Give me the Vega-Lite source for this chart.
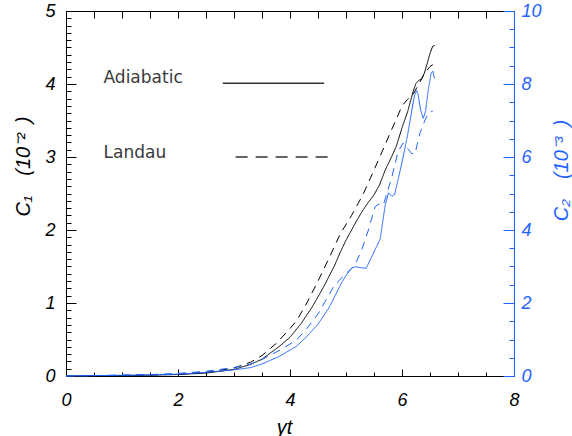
{
  "$schema": "https://vega.github.io/schema/vega-lite/v6.json",
  "width": 448,
  "height": 365,
  "autosize": {"type": "none"},
  "padding": {"left": 66, "top": 11, "right": 58, "bottom": 60},
  "background": "white",
  "config": {
    "view": {"stroke": null},
    "axis": {
      "grid": false,
      "domainColor": "black",
      "tickColor": "black",
      "labelColor": "black",
      "titleColor": "black",
      "labelFont": "Liberation Sans",
      "labelFontStyle": "italic",
      "labelFontSize": 18,
      "labelFontWeight": "normal",
      "titleFont": "Liberation Sans",
      "titleFontStyle": "italic",
      "titleFontWeight": "normal",
      "titleFontSize": 20,
      "domainWidth": 1,
      "tickWidth": 1
    }
  },
  "datasets": {
    "curves": [
      {"var": "C1", "model": "Adiabatic", "t": 0, "c": 0},
      {"var": "C1", "model": "Adiabatic", "t": 0.5, "c": 0.003},
      {"var": "C1", "model": "Adiabatic", "t": 1, "c": 0.006},
      {"var": "C1", "model": "Adiabatic", "t": 1.5, "c": 0.012},
      {"var": "C1", "model": "Adiabatic", "t": 2, "c": 0.02},
      {"var": "C1", "model": "Adiabatic", "t": 2.5, "c": 0.04},
      {"var": "C1", "model": "Adiabatic", "t": 3, "c": 0.09},
      {"var": "C1", "model": "Adiabatic", "t": 3.3, "c": 0.16},
      {"var": "C1", "model": "Adiabatic", "t": 3.5, "c": 0.23},
      {"var": "C1", "model": "Adiabatic", "t": 3.8, "c": 0.40},
      {"var": "C1", "model": "Adiabatic", "t": 4.0, "c": 0.53},
      {"var": "C1", "model": "Adiabatic", "t": 4.2, "c": 0.72},
      {"var": "C1", "model": "Adiabatic", "t": 4.4, "c": 0.95},
      {"var": "C1", "model": "Adiabatic", "t": 4.6, "c": 1.22},
      {"var": "C1", "model": "Adiabatic", "t": 4.8, "c": 1.52},
      {"var": "C1", "model": "Adiabatic", "t": 4.9, "c": 1.70},
      {"var": "C1", "model": "Adiabatic", "t": 5.0, "c": 1.86},
      {"var": "C1", "model": "Adiabatic", "t": 5.1, "c": 2.0},
      {"var": "C1", "model": "Adiabatic", "t": 5.2, "c": 2.14},
      {"var": "C1", "model": "Adiabatic", "t": 5.3, "c": 2.27},
      {"var": "C1", "model": "Adiabatic", "t": 5.4, "c": 2.38},
      {"var": "C1", "model": "Adiabatic", "t": 5.5, "c": 2.48},
      {"var": "C1", "model": "Adiabatic", "t": 5.6, "c": 2.62},
      {"var": "C1", "model": "Adiabatic", "t": 5.7, "c": 2.82},
      {"var": "C1", "model": "Adiabatic", "t": 5.8, "c": 2.98},
      {"var": "C1", "model": "Adiabatic", "t": 5.9, "c": 3.15},
      {"var": "C1", "model": "Adiabatic", "t": 6.0, "c": 3.40},
      {"var": "C1", "model": "Adiabatic", "t": 6.1, "c": 3.62},
      {"var": "C1", "model": "Adiabatic", "t": 6.2, "c": 3.90},
      {"var": "C1", "model": "Adiabatic", "t": 6.25, "c": 4.01},
      {"var": "C1", "model": "Adiabatic", "t": 6.3, "c": 4.05},
      {"var": "C1", "model": "Adiabatic", "t": 6.35, "c": 4.07},
      {"var": "C1", "model": "Adiabatic", "t": 6.4, "c": 4.15},
      {"var": "C1", "model": "Adiabatic", "t": 6.45, "c": 4.28},
      {"var": "C1", "model": "Adiabatic", "t": 6.5, "c": 4.42},
      {"var": "C1", "model": "Adiabatic", "t": 6.55, "c": 4.52},
      {"var": "C1", "model": "Adiabatic", "t": 6.59, "c": 4.53},
      {"var": "C1", "model": "Landau", "t": 0, "c": 0},
      {"var": "C1", "model": "Landau", "t": 0.5, "c": 0.003},
      {"var": "C1", "model": "Landau", "t": 1, "c": 0.007},
      {"var": "C1", "model": "Landau", "t": 1.5, "c": 0.014},
      {"var": "C1", "model": "Landau", "t": 2, "c": 0.025},
      {"var": "C1", "model": "Landau", "t": 2.5, "c": 0.05},
      {"var": "C1", "model": "Landau", "t": 3, "c": 0.11},
      {"var": "C1", "model": "Landau", "t": 3.3, "c": 0.19},
      {"var": "C1", "model": "Landau", "t": 3.5, "c": 0.28},
      {"var": "C1", "model": "Landau", "t": 3.76, "c": 0.45},
      {"var": "C1", "model": "Landau", "t": 4.0, "c": 0.65},
      {"var": "C1", "model": "Landau", "t": 4.12, "c": 0.76},
      {"var": "C1", "model": "Landau", "t": 4.3, "c": 1.0},
      {"var": "C1", "model": "Landau", "t": 4.5, "c": 1.30},
      {"var": "C1", "model": "Landau", "t": 4.7, "c": 1.62},
      {"var": "C1", "model": "Landau", "t": 4.9, "c": 1.95},
      {"var": "C1", "model": "Landau", "t": 5.1, "c": 2.2},
      {"var": "C1", "model": "Landau", "t": 5.3, "c": 2.48},
      {"var": "C1", "model": "Landau", "t": 5.5, "c": 2.82},
      {"var": "C1", "model": "Landau", "t": 5.7, "c": 3.17},
      {"var": "C1", "model": "Landau", "t": 5.8, "c": 3.35},
      {"var": "C1", "model": "Landau", "t": 5.9, "c": 3.52},
      {"var": "C1", "model": "Landau", "t": 6.0, "c": 3.70},
      {"var": "C1", "model": "Landau", "t": 6.1, "c": 3.79},
      {"var": "C1", "model": "Landau", "t": 6.2, "c": 3.86},
      {"var": "C1", "model": "Landau", "t": 6.3, "c": 4.0},
      {"var": "C1", "model": "Landau", "t": 6.4, "c": 4.14},
      {"var": "C1", "model": "Landau", "t": 6.5, "c": 4.24},
      {"var": "C1", "model": "Landau", "t": 6.58, "c": 4.28},
      {"var": "C2", "model": "Adiabatic", "t": 0, "c": 0},
      {"var": "C2", "model": "Adiabatic", "t": 0.5, "c": 0.01},
      {"var": "C2", "model": "Adiabatic", "t": 1, "c": 0.02},
      {"var": "C2", "model": "Adiabatic", "t": 1.5, "c": 0.03},
      {"var": "C2", "model": "Adiabatic", "t": 2, "c": 0.05},
      {"var": "C2", "model": "Adiabatic", "t": 2.5, "c": 0.1},
      {"var": "C2", "model": "Adiabatic", "t": 3, "c": 0.17},
      {"var": "C2", "model": "Adiabatic", "t": 3.3, "c": 0.23},
      {"var": "C2", "model": "Adiabatic", "t": 3.5, "c": 0.33},
      {"var": "C2", "model": "Adiabatic", "t": 3.8, "c": 0.53},
      {"var": "C2", "model": "Adiabatic", "t": 4.0, "c": 0.71},
      {"var": "C2", "model": "Adiabatic", "t": 4.12, "c": 0.82},
      {"var": "C2", "model": "Adiabatic", "t": 4.3, "c": 1.08},
      {"var": "C2", "model": "Adiabatic", "t": 4.5, "c": 1.42},
      {"var": "C2", "model": "Adiabatic", "t": 4.7, "c": 1.88},
      {"var": "C2", "model": "Adiabatic", "t": 4.92, "c": 2.55},
      {"var": "C2", "model": "Adiabatic", "t": 5.0, "c": 2.75},
      {"var": "C2", "model": "Adiabatic", "t": 5.1, "c": 2.95},
      {"var": "C2", "model": "Adiabatic", "t": 5.16, "c": 2.99},
      {"var": "C2", "model": "Adiabatic", "t": 5.36, "c": 2.95},
      {"var": "C2", "model": "Adiabatic", "t": 5.61, "c": 3.75},
      {"var": "C2", "model": "Adiabatic", "t": 5.70, "c": 4.68},
      {"var": "C2", "model": "Adiabatic", "t": 5.76, "c": 5.02},
      {"var": "C2", "model": "Adiabatic", "t": 5.82, "c": 4.92},
      {"var": "C2", "model": "Adiabatic", "t": 5.87, "c": 4.98},
      {"var": "C2", "model": "Adiabatic", "t": 6.0, "c": 5.85},
      {"var": "C2", "model": "Adiabatic", "t": 6.1, "c": 6.6},
      {"var": "C2", "model": "Adiabatic", "t": 6.2, "c": 7.5},
      {"var": "C2", "model": "Adiabatic", "t": 6.23, "c": 7.72},
      {"var": "C2", "model": "Adiabatic", "t": 6.26, "c": 7.82},
      {"var": "C2", "model": "Adiabatic", "t": 6.29, "c": 7.7},
      {"var": "C2", "model": "Adiabatic", "t": 6.33, "c": 7.3},
      {"var": "C2", "model": "Adiabatic", "t": 6.38, "c": 7.06},
      {"var": "C2", "model": "Adiabatic", "t": 6.42, "c": 7.25},
      {"var": "C2", "model": "Adiabatic", "t": 6.47, "c": 7.85},
      {"var": "C2", "model": "Adiabatic", "t": 6.52, "c": 8.3},
      {"var": "C2", "model": "Adiabatic", "t": 6.55, "c": 8.35},
      {"var": "C2", "model": "Adiabatic", "t": 6.58, "c": 8.15},
      {"var": "C2", "model": "Landau", "t": 0, "c": 0},
      {"var": "C2", "model": "Landau", "t": 0.5, "c": 0.01},
      {"var": "C2", "model": "Landau", "t": 1, "c": 0.03},
      {"var": "C2", "model": "Landau", "t": 1.5, "c": 0.04},
      {"var": "C2", "model": "Landau", "t": 2, "c": 0.07},
      {"var": "C2", "model": "Landau", "t": 2.5, "c": 0.13},
      {"var": "C2", "model": "Landau", "t": 3, "c": 0.23},
      {"var": "C2", "model": "Landau", "t": 3.3, "c": 0.33},
      {"var": "C2", "model": "Landau", "t": 3.5, "c": 0.45},
      {"var": "C2", "model": "Landau", "t": 3.88, "c": 0.76},
      {"var": "C2", "model": "Landau", "t": 4.12, "c": 0.99},
      {"var": "C2", "model": "Landau", "t": 4.3, "c": 1.3},
      {"var": "C2", "model": "Landau", "t": 4.5, "c": 1.7},
      {"var": "C2", "model": "Landau", "t": 4.8, "c": 2.5},
      {"var": "C2", "model": "Landau", "t": 5.01, "c": 2.82},
      {"var": "C2", "model": "Landau", "t": 5.16, "c": 3.04},
      {"var": "C2", "model": "Landau", "t": 5.28, "c": 3.45},
      {"var": "C2", "model": "Landau", "t": 5.40, "c": 4.0},
      {"var": "C2", "model": "Landau", "t": 5.52, "c": 4.64},
      {"var": "C2", "model": "Landau", "t": 5.61, "c": 4.73},
      {"var": "C2", "model": "Landau", "t": 5.67, "c": 4.7},
      {"var": "C2", "model": "Landau", "t": 5.82, "c": 5.46},
      {"var": "C2", "model": "Landau", "t": 5.93, "c": 6.15},
      {"var": "C2", "model": "Landau", "t": 6.02, "c": 6.38},
      {"var": "C2", "model": "Landau", "t": 6.08, "c": 6.27},
      {"var": "C2", "model": "Landau", "t": 6.17, "c": 6.1},
      {"var": "C2", "model": "Landau", "t": 6.23, "c": 6.08},
      {"var": "C2", "model": "Landau", "t": 6.32, "c": 6.65},
      {"var": "C2", "model": "Landau", "t": 6.41, "c": 7.01},
      {"var": "C2", "model": "Landau", "t": 6.47, "c": 7.2},
      {"var": "C2", "model": "Landau", "t": 6.55, "c": 7.26}
    ],
    "legendLines": [
      {"model": "Adiabatic", "t": 2.80, "c": 4.01},
      {"model": "Adiabatic", "t": 4.61, "c": 4.01},
      {"model": "Landau", "t": 3.03, "c": 3.0},
      {"model": "Landau", "t": 4.77, "c": 3.0}
    ],
    "legendText": [
      {"label": "Adiabatic", "t": 0.67, "c": 4.01},
      {"label": "Landau", "t": 0.67, "c": 2.99}
    ]
  },
  "layer": [
    {
      "data": {"name": "curves"},
      "transform": [{"filter": "datum.var == 'C1'"}],
      "mark": {"type": "line", "color": "black", "strokeWidth": 1},
      "encoding": {
        "x": {
          "field": "t", "type": "quantitative",
          "scale": {"domain": [0, 8], "nice": false},
          "axis": {
            "orient": "bottom", "values": [0, 2, 4, 6, 8], "format": "d",
            "tickSize": -7, "labelPadding": 22, "labelFlush": false,
            "title": "γt", "titleX": 218, "titleY": 57, "titleBaseline": "alphabetic"
          }
        },
        "y": {
          "field": "c", "type": "quantitative",
          "scale": {"domain": [0, 5], "nice": false},
          "axis": {
            "orient": "left", "values": [0, 1, 2, 3, 4, 5], "format": "d",
            "tickSize": -10, "labelPadding": 21, "labelFlush": false,
            "title": "C₁\u2003(10⁻²\u2002)", "titleX": -43, "titleY": 155, "titleAngle": -90,
            "titleAlign": "center", "titleBaseline": "middle"
          }
        },
        "strokeDash": {
          "field": "model", "type": "nominal",
          "scale": {"domain": ["Adiabatic", "Landau"], "range": [[1, 0], [8, 6]]},
          "legend": null
        }
      }
    },
    {
      "data": {"name": "curves"},
      "transform": [{"filter": "datum.var == 'C2'"}],
      "mark": {"type": "line", "color": "#1f64ff", "strokeWidth": 1},
      "encoding": {
        "x": {
          "field": "t", "type": "quantitative",
          "scale": {"domain": [0, 8], "nice": false},
          "axis": {
            "orient": "top", "values": [0, 0.5, 1, 1.5, 2, 2.5, 3, 3.5, 4, 4.5, 5, 5.5, 6, 6.5, 7, 7.5, 8],
            "tickSize": -7, "labels": false, "title": null
          }
        },
        "y": {
          "field": "c", "type": "quantitative",
          "scale": {"domain": [0, 10], "nice": false},
          "axis": {
            "orient": "right", "values": [0, 2, 4, 6, 8, 10], "format": "d",
            "tickSize": -11, "labelPadding": 18, "labelFlush": false,
            "domainColor": "#1f64ff", "tickColor": "#1f64ff", "labelColor": "#1f64ff", "titleColor": "#1f64ff",
            "title": "C₂\u2003(10⁻³\u2002)", "titleX": 47, "titleY": 159, "titleAngle": 270,
            "titleAlign": "center", "titleBaseline": "middle"
          }
        },
        "strokeDash": {
          "field": "model", "type": "nominal",
          "scale": {"domain": ["Adiabatic", "Landau"], "range": [[1, 0], [8, 6]]},
          "legend": null
        }
      }
    },
    {
      "data": {"name": "legendLines"},
      "mark": {"type": "line", "color": "#333333", "strokeWidth": 1.3},
      "encoding": {
        "x": {
          "field": "t", "type": "quantitative",
          "scale": {"domain": [0, 8], "nice": false},
          "axis": {
            "orient": "bottom", "values": [0.5, 1, 1.5, 2.5, 3, 3.5, 4.5, 5, 5.5, 6.5, 7, 7.5],
            "tickSize": -4, "labels": false, "domain": false, "title": null
          }
        },
        "y": {
          "field": "c", "type": "quantitative",
          "scale": {"domain": [0, 5], "nice": false},
          "axis": {
            "orient": "left",
            "values": [0.1,0.2,0.3,0.4,0.5,0.6,0.7,0.8,0.9,1.1,1.2,1.3,1.4,1.5,1.6,1.7,1.8,1.9,2.1,2.2,2.3,2.4,2.5,2.6,2.7,2.8,2.9,3.1,3.2,3.3,3.4,3.5,3.6,3.7,3.8,3.9,4.1,4.2,4.3,4.4,4.5,4.6,4.7,4.8,4.9],
            "tickSize": -5, "labels": false, "domain": false, "title": null
          }
        },
        "detail": {"field": "model", "type": "nominal"},
        "strokeDash": {
          "condition": {"test": "datum.model == 'Landau'", "value": [12, 8]},
          "value": [1, 0]
        }
      }
    },
    {
      "data": {"name": "legendText"},
      "mark": {"type": "text", "align": "left", "baseline": "alphabetic", "font": "DejaVu Sans", "fontSize": 17, "color": "#3a3a3a"},
      "encoding": {
        "x": {"field": "t", "type": "quantitative", "scale": {"domain": [0, 8], "nice": false}, "axis": null},
        "y": {
          "field": "c", "type": "quantitative",
          "scale": {"domain": [0, 5], "nice": false},
          "axis": {
            "orient": "right",
            "values": [0.25,0.5,0.75,1.25,1.5,1.75,2.25,2.5,2.75,3.25,3.5,3.75,4.25,4.5,4.75],
            "tickSize": -5, "tickColor": "#1f64ff", "labels": false, "domain": false, "title": null
          }
        },
        "text": {"field": "label", "type": "nominal"}
      }
    }
  ],
  "resolve": {
    "scale": {"y": "independent"},
    "axis": {"x": "independent", "y": "independent"}
  }
}
